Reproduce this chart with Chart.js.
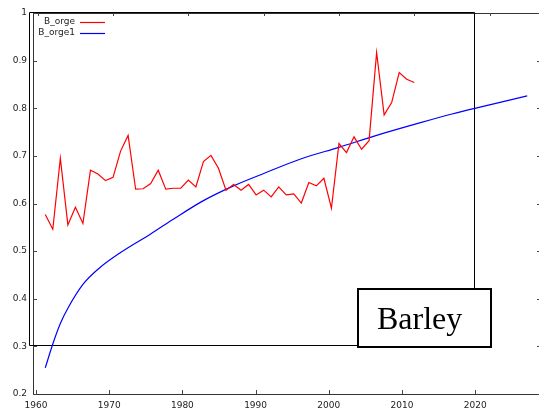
<!DOCTYPE html>
<html>
<head>
<meta charset="utf-8">
<script src="https://cdn.jsdelivr.net/npm/chart.js@4/dist/chart.umd.min.js"></script>
<style>
  html, body { margin: 0; padding: 0; overflow: hidden; background: #fff; }
  #wrap { width: 545px; height: 408px; }
</style>
</head>
<body>
<div id="wrap"><canvas id="myChart" width="545" height="408"></canvas></div>
<script>
// observed series
const orgeYears = [1961, 1962, 1963, 1964, 1965, 1966, 1967, 1968, 1969, 1970,
    1971, 1972, 1973, 1974, 1975, 1976, 1977, 1978, 1979, 1980,
    1981, 1982, 1983, 1984, 1985, 1986, 1987, 1988, 1989, 1990,
    1991, 1992, 1993, 1994, 1995, 1996, 1997, 1998, 1999, 2000,
    2001, 2002, 2003, 2004, 2005, 2006, 2007, 2008, 2009, 2010];
const orgeValues = [0.577, 0.546, 0.695, 0.555, 0.592, 0.558, 0.670, 0.662, 0.648, 0.655,
    0.710, 0.743, 0.630, 0.631, 0.642, 0.670, 0.630, 0.632, 0.632, 0.649,
    0.635, 0.688, 0.701, 0.674, 0.628, 0.640, 0.628, 0.640, 0.618, 0.628,
    0.614, 0.635, 0.618, 0.620, 0.601, 0.644, 0.637, 0.653, 0.590, 0.726,
    0.707, 0.740, 0.714, 0.732, 0.917, 0.786, 0.812, 0.875, 0.861, 0.854];

// fitted curve
const fitYears = [1961, 1962, 1963, 1964, 1966, 1968, 1971, 1975, 1978, 1982,
    1986, 1990, 1995, 2000, 2005, 2010, 2015, 2020, 2025];
const fitValues = [0.255, 0.305, 0.348, 0.380, 0.430, 0.462, 0.497, 0.536, 0.567, 0.606,
    0.637, 0.663, 0.694, 0.718, 0.743, 0.766, 0.788, 0.807, 0.826];

const xTicks = [1960, 1970, 1980, 1990, 2000, 2010, 2020];
const yTicks = [0.2, 0.3, 0.4, 0.5, 0.6, 0.7, 0.8, 0.9, 1];

const seriesNames = ['B_orge', 'B_orge1'];
const seriesColors = ['#ff0000', '#0000ff'];
const panelLabel = 'Barley';

function toPoints(xs, ys) {
    return xs.map((x, i) => ({ x: x, y: ys[i] }));
}

const framePlugin = {
    id: 'frame',
    beforeDatasetsDraw(chart) {
        const c = chart.ctx;
        const a = chart.chartArea;
        const xs = chart.scales.x;
        const xt = chart.scales.x2;
        const ys = chart.scales.y;
        c.save();
        // axes box
        c.strokeStyle = '#333';
        c.lineWidth = 1;
        c.beginPath();
        c.moveTo(a.left + 0.5, a.top + 0.5);
        c.lineTo(a.right + 0.5, a.top + 0.5);
        c.moveTo(a.left + 0.5, a.top);
        c.lineTo(a.left + 0.5, a.bottom + 0.5);
        c.lineTo(a.right + 0.5, a.bottom + 0.5);
        c.moveTo(a.right + 0.5, a.top);
        c.lineTo(a.right + 0.5, a.bottom);
        c.stroke();
        // inward tick marks
        c.strokeStyle = '#444';
        c.beginPath();
        xTicks.forEach(v => {
            const px = Math.round(xs.getPixelForValue(v)) + 0.5;
            c.moveTo(px, a.bottom);
            c.lineTo(px, a.bottom - 4);
            const pt = Math.round(xt.getPixelForValue(v)) + 0.5;
            c.moveTo(pt, a.top);
            c.lineTo(pt, a.top + 3);
        });
        yTicks.forEach(v => {
            const py = Math.round(ys.getPixelForValue(v)) + 0.5;
            c.moveTo(a.left, py);
            c.lineTo(a.left + 4, py);
            c.moveTo(a.right, py);
            c.lineTo(a.right - 4, py);
        });
        c.stroke();
        // outer black rectangle
        c.strokeStyle = '#000';
        c.beginPath();
        c.rect(29.5, 12.5, 445, 333);
        c.stroke();
        c.restore();
    },
    afterDatasetsDraw(chart) {
        const c = chart.ctx;
        c.save();
        // legend
        c.font = '9px "DejaVu Sans"';
        c.fillStyle = '#222';
        c.textAlign = 'right';
        c.textBaseline = 'middle';
        chart.data.datasets.forEach((ds, i) => {
            const yy = 22 + i * 11;
            c.fillText(ds.label, 75, yy);
            c.strokeStyle = ds.borderColor;
            c.lineWidth = 1.2;
            c.beginPath();
            c.moveTo(80, yy + 0.5);
            c.lineTo(105, yy + 0.5);
            c.stroke();
        });
        // label box
        c.fillStyle = '#fff';
        c.fillRect(357, 288, 135, 60);
        c.strokeStyle = '#000';
        c.lineWidth = 2;
        c.strokeRect(358, 289, 133, 58);
        c.fillStyle = '#000';
        c.font = '32px "Liberation Serif"';
        c.textAlign = 'left';
        c.textBaseline = 'alphabetic';
        c.fillText(panelLabel, 377, 329);
        c.restore();
    }
};

const ctx = document.getElementById('myChart');

const myChart = new Chart(ctx, {
    type: 'line',
    data: {
        datasets: [{
            label: seriesNames[0],
            data: toPoints(orgeYears, orgeValues),
            borderColor: seriesColors[0],
            borderWidth: 1.2,
            pointRadius: 0,
            tension: 0,
            xAxisID: 'x2',
            yAxisID: 'y'
        },
        {
            label: seriesNames[1],
            data: toPoints(fitYears, fitValues),
            borderColor: seriesColors[1],
            borderWidth: 1.2,
            pointRadius: 0,
            cubicInterpolationMode: 'monotone',
            xAxisID: 'x2',
            yAxisID: 'y'
        }]
    },
    options: {
        responsive: false,
        animation: false,
        layout: { padding: { left: 0, right: 4, top: 0, bottom: 0 } },
        plugins: {
            legend: { display: false },
            tooltip: { enabled: false }
        },
        scales: {
            x: {
                type: 'linear',
                position: 'bottom',
                min: 1959.59,
                max: 2028.99,
                grid: { display: false, drawTicks: false },
                border: { display: false },
                afterBuildTicks: s => { s.ticks = xTicks.map(v => ({ value: v })); },
                afterFit: s => { s.height = 14; },
                ticks: {
                    padding: 6,
                    color: '#222',
                    autoSkip: false,
                    font: { family: 'DejaVu Sans', size: 9 },
                    maxRotation: 0,
                    callback: v => String(v)
                }
            },
            x2: {
                type: 'linear',
                position: 'top',
                min: 1959.37,
                max: 2026.83,
                grid: { display: false, drawTicks: false },
                border: { display: false },
                afterFit: s => { s.height = 13; },
                ticks: { display: false }
            },
            y: {
                type: 'linear',
                position: 'left',
                min: 0.2,
                max: 1,
                grid: { display: false, drawTicks: false },
                border: { display: false },
                afterBuildTicks: s => { s.ticks = yTicks.map(v => ({ value: v })); },
                afterFit: s => { s.width = 33; },
                ticks: {
                    padding: 6,
                    color: '#222',
                    font: { family: 'DejaVu Sans', size: 9 },
                    callback: v => String(v)
                }
            }
        }
    },
    plugins: [framePlugin]
});
</script>
</body>
</html>
